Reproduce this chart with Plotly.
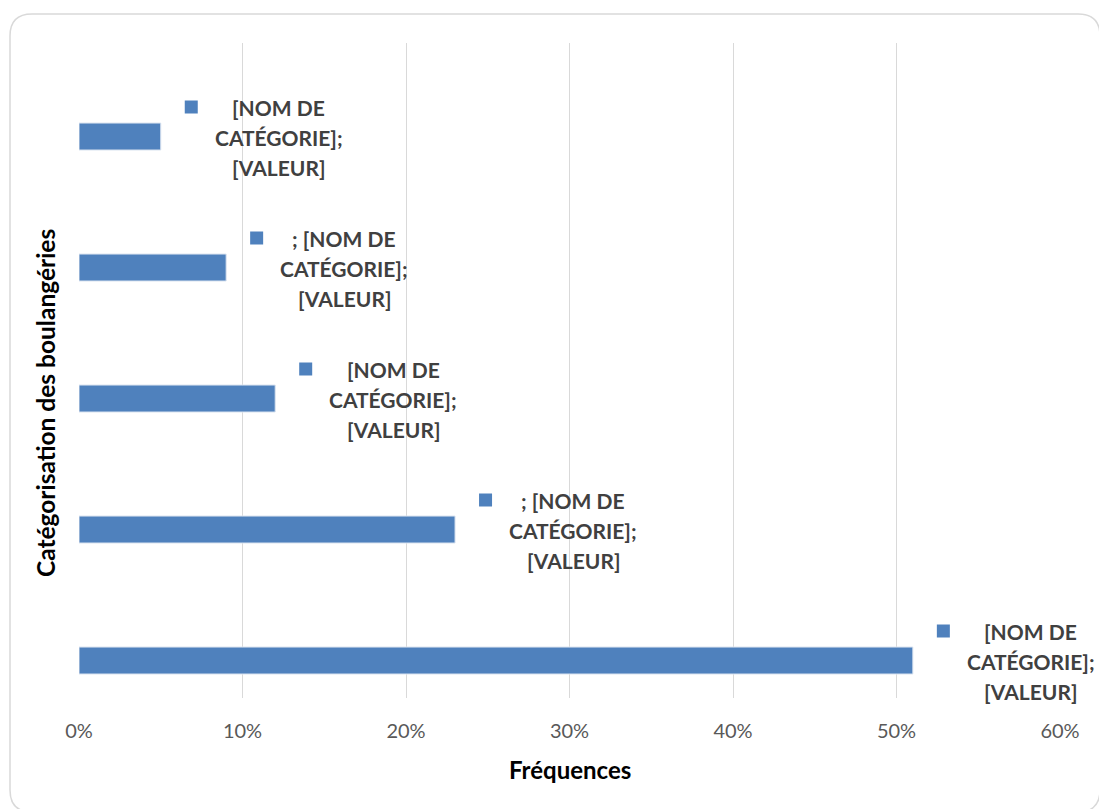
import plotly.graph_objects as go

# Data
categories = ["Cat 1", "Cat 2", "Cat 3", "Cat 4", "Cat 5"]  # bottom to top
values = [0.51, 0.23, 0.12, 0.09, 0.05]
labels = [
    "[NOM DE<br>CATÉGORIE];<br>[VALEUR]",
    "; [NOM DE<br>CATÉGORIE];<br>[VALEUR]",
    "[NOM DE<br>CATÉGORIE];<br>[VALEUR]",
    "; [NOM DE<br>CATÉGORIE];<br>[VALEUR]",
    "[NOM DE<br>CATÉGORIE];<br>[VALEUR]",
]
x_ticks = [0, 0.1, 0.2, 0.3, 0.4, 0.5, 0.6]
x_ticklabels = ["0%", "10%", "20%", "30%", "40%", "50%", "60%"]

W, H = 1099, 809
L, R, T, B = 79, 39, 43, 111
PW, PH = W - L - R, H - T - B

def px(xp):
    return (xp - L) / PW

def py(yp):
    return (H - B - yp) / PH

BAR = "#4f81bd"
FONT = "Lato, Open Sans, Liberation Sans, sans-serif"

ypos = list(range(len(categories)))

fig = go.Figure()
fig.add_trace(go.Bar(
    x=values, y=ypos, orientation="h",
    width=0.206, offset=-0.317,
    marker=dict(color=BAR, line=dict(color="#dbe4f0", width=1)),
    hoverinfo="skip",
))

annotations = []
shapes = []
for v, yv, lab in zip(values, ypos, labels):
    lines = lab.split("<br>")
    for i, ln in enumerate(lines):
        annotations.append(dict(
            x=v, y=yv, xref="x", yref="y",
            text="<b>" + ln + "</b>", showarrow=False,
            xanchor="center", yanchor="middle",
            xshift=118, yshift=-29 - (i - 1) * 30,
            font=dict(family=FONT, size=21, color="#404040"),
        ))
    shapes.append(dict(
        type="rect", xref="x", yref="y", xsizemode="pixel", ysizemode="pixel",
        xanchor=v, yanchor=yv, x0=24, x1=37, y0=-5, y1=8,
        fillcolor=BAR, line=dict(width=0), layer="above",
    ))

# axis titles
annotations.append(dict(
    x=px(570), y=py(769), xref="paper", yref="paper",
    text="<b>Fréquences</b>", showarrow=False, xanchor="center", yanchor="middle",
    font=dict(family=FONT, size=24, color="#000000"),
))
annotations.append(dict(
    x=px(45), y=py(403), xref="paper", yref="paper",
    text="<b>Catégorisation des boulangéries</b>", showarrow=False,
    xanchor="center", yanchor="middle", textangle=-90,
    font=dict(family=FONT, size=24.5, color="#000000"),
))

# rounded chart border
x0b, y0b, x1b, y1b, r = 10, 14, 1100, 812, 22
path = (
    f"M {px(x0b)},{py(y0b + r)} "
    f"Q {px(x0b)},{py(y0b)} {px(x0b + r)},{py(y0b)} "
    f"L {px(x1b - r)},{py(y0b)} "
    f"Q {px(x1b)},{py(y0b)} {px(x1b)},{py(y0b + r)} "
    f"L {px(x1b)},{py(y1b - r)} "
    f"Q {px(x1b)},{py(y1b)} {px(x1b - r)},{py(y1b)} "
    f"L {px(x0b + r)},{py(y1b)} "
    f"Q {px(x0b)},{py(y1b)} {px(x0b)},{py(y1b - r)} Z"
)
shapes.append(dict(type="path", xref="paper", yref="paper", path=path,
                   line=dict(color="#d9d9d9", width=1.5), layer="below"))

fig.update_layout(
    width=W, height=H,
    margin=dict(l=L, r=R, t=T, b=B),
    paper_bgcolor="white", plot_bgcolor="white",
    showlegend=False,
    annotations=annotations,
    shapes=shapes,
    xaxis=dict(
        range=[0, 0.6], tickvals=x_ticks, ticktext=x_ticklabels,
        showgrid=True, gridcolor="#d9d9d9", gridwidth=1,
        zeroline=False, showline=False, ticks="",
        tickfont=dict(family=FONT, size=20, color="#595959"),
        ticklabelstandoff=19,
        fixedrange=True,
    ),
    yaxis=dict(
        range=[-0.5, 4.5], showticklabels=False, showgrid=False,
        zeroline=False, showline=False, ticks="", fixedrange=True,
    ),
)

fig.write_html("out.html")
